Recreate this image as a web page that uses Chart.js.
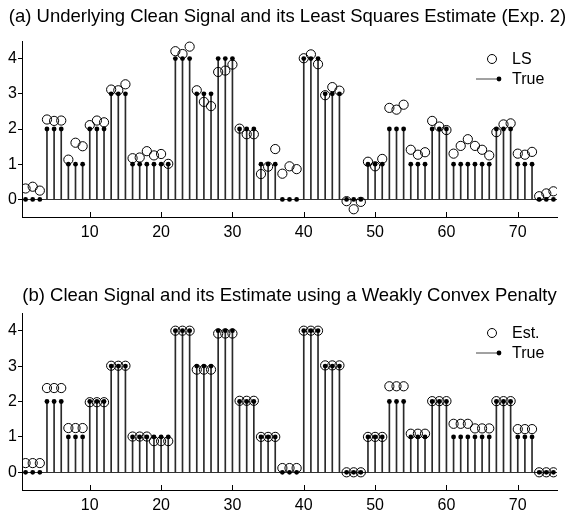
<!DOCTYPE html>
<html>
<head>
<meta charset="utf-8">
<script src="https://cdn.jsdelivr.net/npm/chart.js@4"></script>
<style>
  html, body { margin: 0; padding: 0; background: #fff; }
  body { width: 571px; height: 510px; position: relative; overflow: hidden; font-family: "Liberation Sans", Arial, sans-serif; }
  .panel { position: absolute; left: 0; width: 571px; }
  canvas { display: block; }
  .title { position: absolute; left: 0; width: 571px; text-align: center; font-size: 18.5px; line-height: 20px; color: #000; white-space: nowrap; }
</style>
</head>
<body>
<div class="panel" style="top:0; height:255px"><canvas id="c1" width="571" height="255"></canvas></div>
<div class="panel" style="top:255px; height:255px; overflow:hidden"><canvas id="c2" width="571" height="275"></canvas></div>
<div class="title" id="t1" style="top:6px; left:2px"></div>
<div class="title" id="t2" style="top:285px; left:4px"></div>
<script>
// ---- data ----
const titleA = "(a) Underlying Clean Signal and its Least Squares Estimate (Exp. 2)";
const titleB = "(b) Clean Signal and its Estimate using a Weakly Convex Penalty";
const xTickLabels = [10, 20, 30, 40, 50, 60, 70];
const yTickLabels = [0, 1, 2, 3, 4];
const legendA = ["LS", "True"];
const legendB = ["Est.", "True"];

const trueSignal = [0,0,0, 2,2,2, 1,1,1, 2,2,2, 3,3,3, 1,1,1,1,1,1, 4,4,4, 3,3,3, 4,4,4,
  2,2,2, 1,1,1, 0,0,0, 4,4,4, 3,3,3, 0,0,0, 1,1,1, 2,2,2, 1,1,1, 2,2,2,
  1,1,1,1,1,1, 2,2,2, 1,1,1, 0,0,0];

const lsEstimate = [0.31,0.36,0.25, 2.27,2.23,2.24, 1.13,1.61,1.51, 2.11,2.24,2.19,
  3.12,3.10,3.27, 1.17,1.19,1.37,1.25,1.29,1.01, 4.21,4.13,4.34, 3.10,2.77,2.65,
  3.62,3.66,3.83, 2.01,1.85,1.85, 0.72,0.93,1.43, 0.73,0.94,0.86, 4.01,4.12,3.84,
  2.96,3.19,3.09, -0.05,-0.28,-0.07, 1.07,0.94,1.15, 2.60,2.55,2.69, 1.41,1.27,1.34,
  2.23,2.07,1.97, 1.30,1.52,1.71,1.52,1.41,1.25, 1.91,2.13,2.16, 1.30,1.27,1.35,
  0.09,0.17,0.23];

const wcEstimate = [0.26,0.26,0.26, 2.38,2.38,2.38, 1.25,1.25,1.25, 1.98,1.98,1.98,
  3.01,3.01,3.01, 1.01,1.01,1.01, 0.88,0.88,0.88, 4.00,4.00,4.00, 2.90,2.90,2.90,
  3.92,3.92,3.92, 2.02,2.02,2.02, 1.00,1.00,1.00, 0.12,0.12,0.12, 4.00,4.00,4.00,
  3.02,3.02,3.02, 0.00,0.00,0.00, 1.00,1.00,1.00, 2.43,2.43,2.43, 1.09,1.09,1.09,
  2.01,2.01,2.01, 1.37,1.37,1.37, 1.24,1.24,1.24, 2.01,2.01,2.01, 1.22,1.22,1.22,
  0.00,0.00,0.00];

document.getElementById('t1').textContent = titleA;
document.getElementById('t2').textContent = titleB;

const FONT = "'Liberation Sans', Arial, sans-serif";
const toXY = arr => arr.map((v, i) => ({x: i + 1, y: v}));

// inward x ticks + legend
const decor = {
  id: 'decor',
  afterDraw(chart, args, opts) {
    const ctx = chart.ctx;
    const xs = chart.scales.x;
    const a = chart.chartArea;
    ctx.save();
    ctx.strokeStyle = '#000';
    ctx.lineWidth = 1;
    xTickLabels.forEach(v => {
      const px = Math.round(xs.getPixelForValue(v)) + 0.5;
      ctx.beginPath();
      ctx.moveTo(px, a.bottom);
      ctx.lineTo(px, a.bottom - 5);
      ctx.stroke();
    });
    // legend
    const lx = opts.x, ly = opts.y;
    ctx.beginPath();
    ctx.arc(lx + 16, ly, 4.5, 0, Math.PI * 2);
    ctx.stroke();
    ctx.beginPath();
    ctx.moveTo(lx, ly + 20);
    ctx.lineTo(lx + 23, ly + 20);
    ctx.strokeStyle = '#444';
    ctx.stroke();
    ctx.fillStyle = '#000';
    ctx.beginPath();
    ctx.arc(lx + 23, ly + 20, 2.4, 0, Math.PI * 2);
    ctx.fill();
    ctx.font = '16px ' + FONT;
    ctx.textBaseline = 'middle';
    ctx.textAlign = 'left';
    ctx.fillText(opts.labels[0], lx + 36, ly + 1);
    ctx.fillText(opts.labels[1], lx + 36, ly + 21);
    ctx.restore();
  }
};

function makeChart(id, est, padTop, padBottom, legendLabels, legY) {
  return new Chart(document.getElementById(id), {
    type: 'scatter',
    data: {
      datasets: [
        { type: 'bar', data: toXY(trueSignal), backgroundColor: '#2a2a2a', borderWidth: 0,
          barThickness: 1, order: 3 },
        { type: 'scatter', data: toXY(trueSignal), pointRadius: 2.4, pointBackgroundColor: '#000',
          pointBorderWidth: 0, order: 2 },
        { type: 'scatter', data: toXY(est), pointRadius: 4.6, pointBackgroundColor: 'rgba(0,0,0,0)',
          pointBorderColor: '#000', pointBorderWidth: 1, order: 1 }
      ]
    },
    options: {
      responsive: false,
      animation: false,
      devicePixelRatio: 1,
      layout: { padding: { top: padTop, bottom: padBottom, left: 0, right: 14 } },
      plugins: { legend: { display: false }, title: { display: false }, tooltip: { enabled: false },
        decor: { x: 476, y: legY, labels: legendLabels } },
      scales: {
        x: {
          type: 'linear', min: 0.5, max: 75.5, offset: false,
          grid: { display: false },
          border: { display: true, color: '#000', width: 1 },
          ticks: { color: '#000', font: { size: 16, family: FONT }, padding: -2, maxRotation: 0 },
          afterBuildTicks: s => { s.ticks = xTickLabels.map(v => ({ value: v })); },
          afterFit: s => { s.height = 30; }
        },
        y: {
          min: -0.5, max: 4.5,
          grid: { display: true, drawOnChartArea: true, drawTicks: true, tickLength: 4,
            color: c => (c.tick && c.tick.value === 0) ? '#333' : 'rgba(0,0,0,0)',
            tickColor: '#000', lineWidth: 1 },
          border: { display: true, color: '#000', width: 1 },
          ticks: { color: '#000', font: { size: 16, family: FONT }, padding: 1 },
          afterBuildTicks: s => { s.ticks = yTickLabels.map(v => ({ value: v })); },
          afterFit: s => { s.width = 22; }
        }
      }
    },
    plugins: [decor]
  });
}

makeChart('c1', lsEstimate, 41, 8, legendA, 59);
makeChart('c2', wcEstimate, 58, 10, legendB, 333 - 255);
</script>
</body>
</html>
